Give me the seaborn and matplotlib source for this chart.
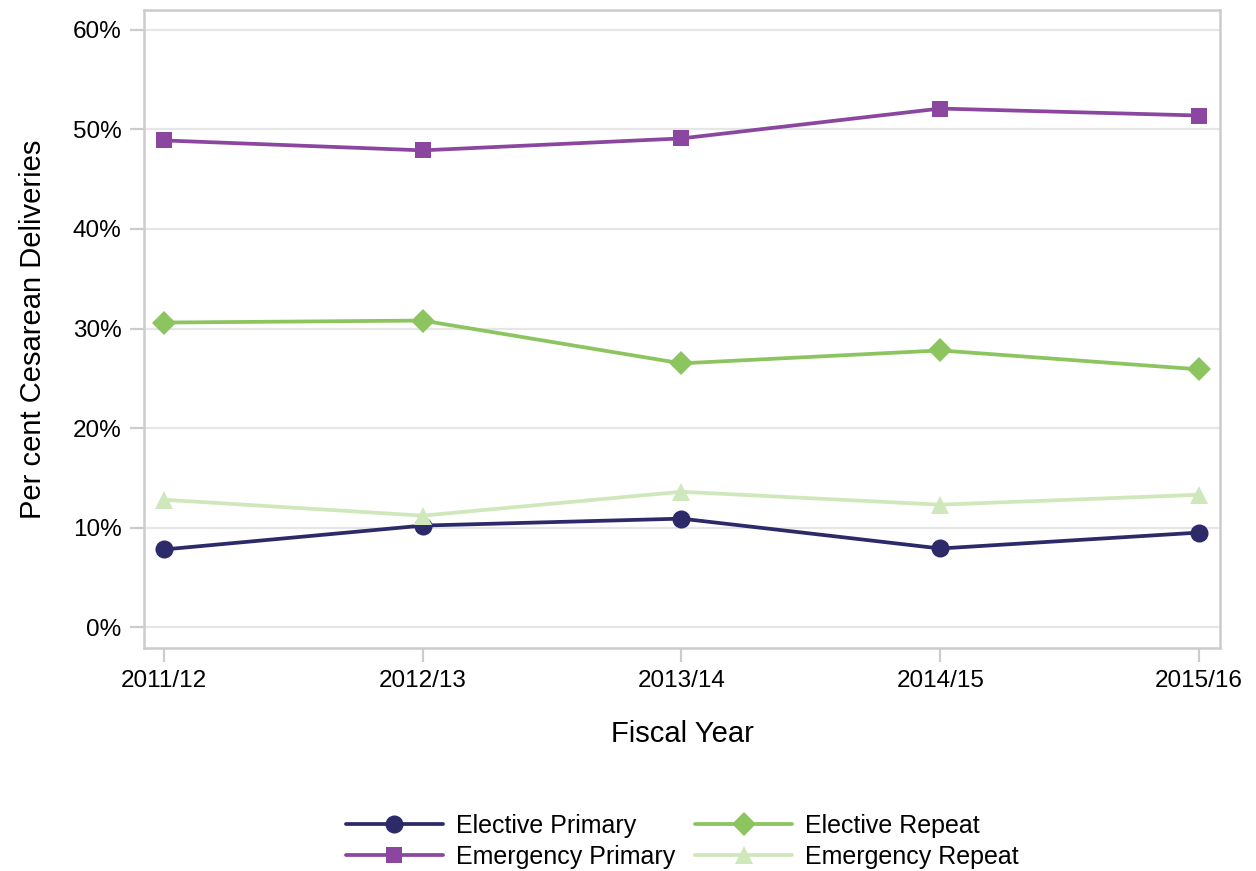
import matplotlib
matplotlib.use("Agg")
import matplotlib.pyplot as plt
import seaborn as sns
import pandas as pd
from matplotlib.ticker import FuncFormatter

years = ["2011/12", "2012/13", "2013/14", "2014/15", "2015/16"]
elective_primary = [7.8, 10.2, 10.9, 7.9, 9.5]
emergency_primary = [48.9, 47.9, 49.1, 52.1, 51.4]
elective_repeat = [30.6, 30.8, 26.5, 27.8, 25.9]
emergency_repeat = [12.8, 11.2, 13.6, 12.3, 13.3]

series_names = ["Elective Primary", "Emergency Primary", "Elective Repeat", "Emergency Repeat"]
series_values = [elective_primary, emergency_primary, elective_repeat, emergency_repeat]
colors = ["#2c2a68", "#8b47a0", "#8cc45f", "#cfe8bb"]
markers = ["o", "s", "D", "^"]
msizes = [13, 12, 12.5, 13.5]

sns.set_theme(style="white")
plt.rcParams["font.family"] = ["Liberation Sans", "DejaVu Sans"]

fig = plt.figure(figsize=(12.56, 8.71), dpi=100)
ax = fig.add_axes([0.1146, 0.256, 0.8567, 0.7325])

rows = []
for name, vals in zip(series_names, series_values):
    for i, v in enumerate(vals):
        rows.append({"idx": i, "value": v, "series": name})
df = pd.DataFrame(rows)

for name, c, m, ms in zip(series_names, colors, markers, msizes):
    sub = df[df["series"] == name]
    sns.lineplot(data=sub, x="idx", y="value", ax=ax, color=c, marker=m,
                 markersize=ms, markeredgewidth=0, linewidth=2.7, label=name)

ax.set_xlim(-0.077, 4.081)
ax.set_ylim(-2.1, 62.0)
ax.set_xticks(range(len(years)))
ax.set_xticklabels(years)
ax.set_yticks([0, 10, 20, 30, 40, 50, 60])
ax.yaxis.set_major_formatter(FuncFormatter(lambda v, p: f"{int(v)}%"))
ax.grid(axis="y", color="#e6e6e6", linewidth=1.6)
ax.set_axisbelow(True)
for s in ax.spines.values():
    s.set_color("#cccccc")
    s.set_linewidth(1.8)
ax.tick_params(axis="both", which="major", length=10, width=1.6, color="#cccccc",
               labelsize=17.5, labelcolor="black", direction="out", pad=6)
ax.tick_params(axis="y", left=True)
ax.tick_params(axis="x", bottom=True)
ax.set_xlabel("Fiscal Year", fontsize=21, labelpad=20, color="black")
ax.set_ylabel("Per cent Cesarean Deliveries", fontsize=21, labelpad=19, color="black")

handles, labels = ax.get_legend_handles_labels()
leg = ax.legend(handles, labels, ncol=2, loc="center", bbox_to_anchor=(0.5, -0.303),
                frameon=False, fontsize=18, handlelength=3.9, columnspacing=0.8,
                labelspacing=0.3, handletextpad=0.5)
for t in leg.get_texts():
    t.set_color("black")

fig.savefig("out.png", dpi=100)
